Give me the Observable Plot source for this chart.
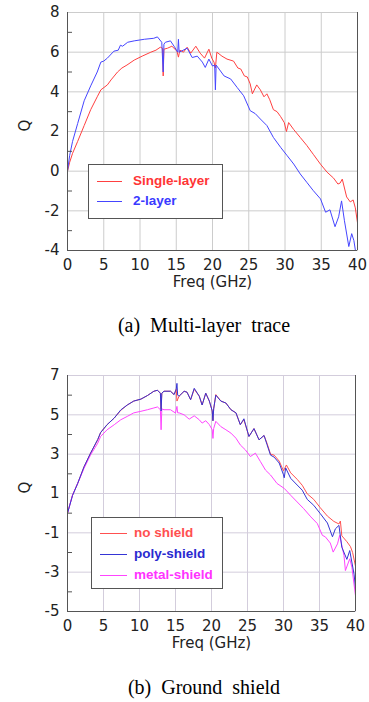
<!DOCTYPE html>
<html><head><meta charset="utf-8">
<script src="https://cdn.jsdelivr.net/npm/d3@7"></script>
<script src="https://cdn.jsdelivr.net/npm/@observablehq/plot@0.6"></script>
<style>
body{margin:0;background:#fff;width:369px;height:702px;position:relative;overflow:hidden}
.chart{position:absolute;left:0}
.legend{position:absolute;box-sizing:border-box;border:1px solid #555;background:#fff;font:bold 13.5px "Liberation Sans",Arial,sans-serif}
.item{position:absolute;height:16px;line-height:16px;white-space:nowrap}
.swatch{position:absolute;height:0;border-top:1px solid}
.caption{position:absolute;left:0;width:408px;text-align:center;font:20px "Liberation Serif","Times New Roman",serif;word-spacing:5px;line-height:24px}
</style></head>
<body>
<div id="c1" class="chart" style="top:0"></div>
<div id="c2" class="chart" style="top:345px"></div>
<div class="caption" style="top:313px">(a) Multi-layer trace</div>
<div class="caption" style="top:675px">(b) Ground shield</div>
<script>
// ---- data (freq GHz, Q) ----
const xTicks = [0,5,10,15,20,25,30,35,40];
const yTicksA = [-4,-2,0,2,4,6,8];
const yMinorA = [-3,-1,1,3,5,7];
const yTicksB = [-5,-3,-1,1,3,5,7];
const yMinorB = [-4,-2,0,2,4,6];

const singleLayer = [[0,0],[0.3,0.45],[0.7,0.9],[1.4,1.5],[2.3,2.3],[3.2,3.1],[4.1,3.75],[4.6,4.1],[5.5,4.35],[6.0,4.6],[6.9,5.0],[7.5,5.2],[8.2,5.35],[9.2,5.6],[10.3,5.8],[11.5,6.0],[12.2,6.1],[12.8,6.25],[13.1,6.2],[13.2,4.8],[13.3,6.15],[13.8,6.2],[14.4,6.3],[15.1,6.05],[15.3,5.75],[15.5,6.1],[16.0,6.0],[16.5,6.25],[17.0,5.95],[17.7,6.3],[18.3,5.95],[18.9,5.7],[19.5,6.15],[19.9,5.7],[20.2,5.5],[20.4,5.2],[20.6,6.0],[21.3,5.8],[22.0,5.65],[22.9,5.55],[23.5,5.2],[23.9,5.15],[24.4,4.8],[24.8,4.75],[25.2,4.4],[25.5,3.9],[26.1,4.35],[26.6,4.1],[27.1,3.75],[27.5,3.9],[27.9,3.6],[28.4,3.1],[28.9,3.0],[29.4,2.75],[29.9,2.45],[30.2,2.0],[30.5,2.45],[31.2,2.1],[32.1,1.7],[33.0,1.3],[33.9,0.85],[34.9,0.35],[35.8,-0.05],[36.7,-0.35],[37.3,-0.65],[37.6,-0.6],[37.9,-0.4],[38.5,-1.3],[39.0,-1.55],[39.4,-1.45],[39.7,-1.85],[40,-2.6]];
const twoLayer = [[0,0],[0.3,0.8],[0.7,1.5],[1.4,2.4],[2.3,3.55],[3.2,4.3],[4.1,5.0],[4.6,5.5],[5.0,5.55],[5.5,5.7],[6.4,6.05],[7.0,6.1],[7.3,6.35],[7.6,6.3],[8.3,6.5],[9.2,6.57],[10.6,6.65],[11.9,6.7],[12.4,6.77],[13.0,6.5],[13.2,5.0],[13.3,6.4],[13.5,6.5],[14.2,6.57],[14.7,6.3],[15.2,6.0],[15.3,6.65],[15.4,6.0],[15.8,6.07],[16.5,6.2],[17.2,5.73],[17.9,5.8],[18.6,5.5],[19.0,5.23],[19.5,5.65],[20.0,5.3],[20.3,5.35],[20.4,4.1],[20.5,5.35],[20.6,5.3],[21.6,4.8],[22.5,4.65],[23.4,4.22],[24.3,3.8],[25.2,3.05],[25.9,2.9],[26.6,2.63],[27.5,2.3],[28.4,1.7],[29.4,1.2],[30.3,0.78],[31.2,0.36],[32.1,-0.14],[33.0,-0.56],[33.9,-0.98],[34.9,-1.4],[35.6,-2.07],[36.2,-1.95],[36.9,-2.8],[37.4,-2.3],[37.8,-1.5],[38.2,-2.5],[38.8,-3.8],[39.2,-3.15],[39.5,-3.5],[39.8,-4.2],[40,-4.6]];

const noShield = [[0,0],[0.7,0.92],[1.4,1.5],[2.3,2.36],[3.2,3.05],[4.2,3.73],[4.6,4.1],[5.5,4.5],[6.5,4.84],[7.4,5.23],[8.3,5.5],[9.2,5.7],[10.2,5.8],[11.1,5.98],[12.0,6.2],[12.5,6.25],[12.9,6.1],[13.0,5.3],[13.1,6.1],[13.4,6.2],[14.3,6.2],[14.8,6.03],[15.1,6.3],[15.2,5.7],[15.5,5.95],[16.2,6.2],[16.6,6.15],[17.1,5.77],[17.6,6.3],[18.3,5.95],[18.7,5.5],[19.2,6.1],[19.7,5.7],[20.1,5.2],[20.2,4.7],[20.3,5.3],[20.6,6.03],[21.3,5.7],[22.0,5.6],[22.7,5.26],[23.4,5.1],[24.0,4.5],[24.5,4.75],[25.2,3.9],[25.9,4.3],[26.6,3.73],[27.3,3.95],[27.7,3.56],[28.2,3.0],[28.7,2.95],[29.4,2.65],[30.0,2.15],[30.4,2.45],[31.0,2.05],[31.9,1.72],[32.6,1.42],[33.3,0.98],[34.2,0.7],[35.1,0.28],[36.1,-0.15],[37.0,-0.42],[37.7,-0.55],[37.9,-0.4],[38.1,-1.15],[38.8,-1.45],[39.3,-1.7],[39.6,-2.0],[40,-2.7]];
const polyShield = [[0,0],[0.7,0.9],[1.4,1.5],[2.3,2.36],[3.2,3.05],[4.2,3.75],[4.6,4.1],[5.5,4.5],[6.5,4.84],[7.4,5.25],[8.3,5.5],[9.2,5.7],[10.2,5.8],[11.1,5.98],[12.0,6.2],[12.5,6.25],[12.9,6.1],[13.0,5.2],[13.1,6.1],[13.4,6.2],[14.3,6.2],[14.8,6.03],[15.1,6.3],[15.2,6.6],[15.3,6.0],[15.5,5.95],[16.2,6.2],[16.6,6.15],[17.1,5.77],[17.6,6.35],[18.3,5.95],[18.7,5.5],[19.2,6.1],[19.7,5.7],[20.1,5.2],[20.2,4.7],[20.3,5.3],[20.6,6.0],[21.3,5.7],[22.0,5.6],[22.7,5.26],[23.4,5.1],[24.0,4.5],[24.5,4.8],[25.2,3.9],[25.9,4.3],[26.6,3.73],[27.3,3.95],[27.7,3.5],[28.2,2.95],[28.7,2.85],[29.4,2.55],[30.0,1.95],[30.1,1.8],[30.3,2.3],[31.0,1.77],[31.9,1.43],[32.6,1.17],[33.3,0.7],[34.2,0.4],[35.1,-0.02],[36.1,-0.5],[36.8,-1.2],[37.2,-0.8],[37.7,-0.62],[38.1,-1.73],[38.8,-2.35],[39.2,-1.9],[39.8,-3.1],[40,-3.8]];
const metalShield = [[0,0],[0.7,0.92],[1.4,1.5],[2.3,2.28],[3.2,2.96],[4.2,3.56],[4.6,3.9],[5.5,4.24],[6.5,4.5],[7.4,4.75],[8.3,4.92],[9.2,5.1],[10.2,5.18],[11.1,5.26],[12.0,5.35],[12.5,5.4],[12.9,5.26],[13.0,4.24],[13.1,5.3],[13.4,5.26],[14.3,5.26],[15.0,5.09],[15.2,5.43],[15.3,5.1],[15.5,5.1],[16.2,5.0],[16.9,4.78],[17.6,4.95],[18.3,4.75],[18.7,4.58],[19.2,4.7],[19.7,4.5],[20.1,4.24],[20.2,3.8],[20.3,4.3],[20.6,4.67],[21.3,4.4],[22.0,4.24],[22.7,4.07],[23.4,3.81],[24.0,3.47],[24.7,3.22],[25.4,2.88],[26.1,3.05],[26.8,2.62],[27.5,2.19],[28.2,1.94],[29.1,1.51],[30.1,1.26],[31.0,0.91],[31.9,0.57],[32.8,0.23],[33.8,-0.19],[34.7,-0.53],[35.4,-1.13],[35.8,-1.2],[36.5,-1.52],[36.9,-1.98],[37.5,-1.56],[37.8,-1.13],[38.4,-2.15],[38.6,-2.92],[39.2,-2.32],[39.5,-2.75],[40,-4.2]];

function chart(o) {
  return Plot.plot({
    width: 369, height: o.height,
    marginLeft: 67, marginRight: o.marginRight, marginTop: o.marginTop, marginBottom: 50,
    style: {fontFamily: "DejaVu Sans, sans-serif", fontSize: "15px", color: "#222", background: "#fff", overflow: "visible"},
    x: {domain: [0, 40]},
    y: {domain: o.yDomain},
    marks: [
      Plot.gridX(xTicks, {stroke: o.grid, strokeOpacity: 1}),
      Plot.gridY(o.yTicks, {stroke: o.grid, strokeOpacity: 1}),
      Plot.frame({stroke: o.grid}),
      ...o.series.map(s => Plot.line(s.data, {x: d => d[0], y: d => d[1], stroke: s.color, strokeWidth: 1, clip: true})),
      Plot.ruleX([0, 40], {stroke: "#555", strokeWidth: 1}),
      Plot.ruleY([o.yDomain[0]], {stroke: "#555", strokeWidth: 1}),
      Plot.axisX(xTicks, {tickSize: 0, tickPadding: 9, tickFormat: d => String(d), label: null, fontSize: 15}),
      Plot.axisY(o.yTicks, {tickSize: 0, tickPadding: 8, tickFormat: d => String(d), label: null, fontSize: 15}),
      Plot.axisY(o.yMinor, {tickSize: -5, tickFormat: () => "", label: null, stroke: "#555"}),
      Plot.text(["Freq (GHz)"], {frameAnchor: "bottom", dy: 36, text: d => d, fontSize: 15}),
      Plot.text(["Q"], {frameAnchor: "left", dx: -42, rotate: -90, text: d => d, fontSize: 15})
    ]
  });
}

document.getElementById("c1").append(chart({
  height: 300, marginTop: 12, marginRight: 12, yDomain: [-4, 8], yTicks: yTicksA, yMinor: yMinorA, grid: "#cccccc",
  series: [{data: singleLayer, color: "#ff4040"}, {data: twoLayer, color: "#4545ff"}]
}));
document.getElementById("c2").append(chart({
  height: 316, marginTop: 30, marginRight: 14, yDomain: [-5, 7], yTicks: yTicksB, yMinor: yMinorB, grid: "#d3cddc",
  series: [{data: noShield, color: "#ff5050"}, {data: metalShield, color: "#ff44ff"}, {data: polyShield, color: "#3535d5"}]
}));

function legend(box, items) {
  const el = document.createElement("div");
  el.className = "legend";
  Object.assign(el.style, {left: box.left + "px", top: box.top + "px", width: box.width + "px", height: box.height + "px"});
  for (const it of items) {
    const sw = document.createElement("div");
    sw.className = "swatch";
    Object.assign(sw.style, {left: box.swLeft + "px", width: box.swWidth + "px", top: (it.cy - 1) + "px", borderTopColor: it.line});
    const tx = document.createElement("div");
    tx.className = "item";
    Object.assign(tx.style, {left: box.txLeft + "px", top: (it.cy - 9) + "px", color: it.color});
    tx.textContent = it.label;
    el.append(sw, tx);
  }
  document.body.append(el);
}
legend({left: 88, top: 164, width: 135, height: 55, swLeft: 8, swWidth: 25, txLeft: 44},
  [{label: "Single-layer", cy: 17, line: "#ff4040", color: "#ff3535"},
   {label: "2-layer", cy: 37, line: "#4545ff", color: "#3a3aff"}]);
legend({left: 91, top: 517, width: 132, height: 72, swLeft: 8, swWidth: 27, txLeft: 42},
  [{label: "no shield", cy: 16, line: "#ff5050", color: "#ff5050"},
   {label: "poly-shield", cy: 37, line: "#3535d5", color: "#2a2ad0"},
   {label: "metal-shield", cy: 58, line: "#ff44ff", color: "#ff33ff"}]);
</script>
</body></html>
